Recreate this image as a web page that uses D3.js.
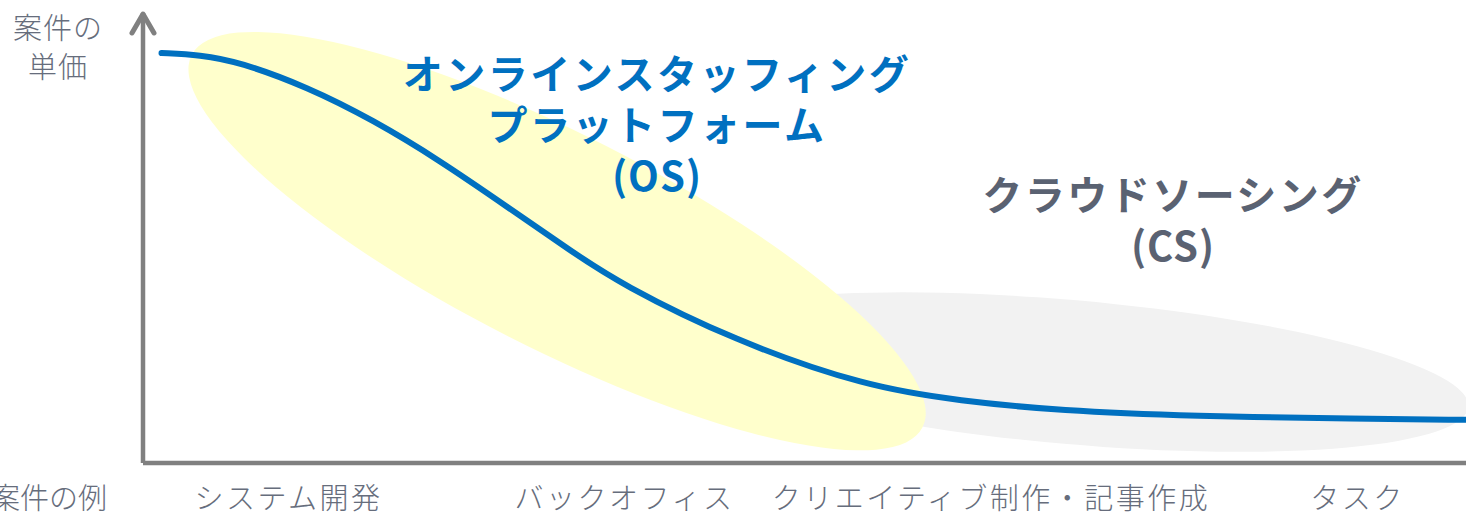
<!DOCTYPE html>
<html>
<head>
<meta charset="utf-8">
<script src="https://cdn.jsdelivr.net/npm/d3@7"></script>
<style>
  html, body { margin: 0; padding: 0; background: #fff; overflow: hidden; }
  text { font-family: "Noto Sans CJK JP", "Noto Sans", sans-serif; }
</style>
</head>
<body>
<div id="chart"></div>
<script>
// curve of unit price vs. task type (0-100 on both axes)
const curveX = [1.4, 4.3, 7.3, 12.4, 17.4, 22.4, 27.5, 32.5, 36.1, 44.6, 54.7, 61.8, 69.3, 79.4, 92.0, 100];
const curveY = [91.1, 90.7, 89.1, 83.6, 76.2, 67.3, 57.0, 46.8, 39.8, 27.3, 16.9, 13.8, 11.6, 10.4, 9.8, 9.6];

// example tasks along the x axis
const taskLabels = ["システム開発", "バックオフィス", "クリエイティブ制作・記事作成", "タスク"];
const taskPos = [11.0, 36.4, 64.1, 91.8];

const yTitle = ["案件の", "単価"];
const xTitle = "案件の例";

const osLines = ["オンラインスタッフィング", "プラットフォーム", "(OS)"];
const csLines = ["クラウドソーシング", "(CS)"];

const W = 1466, H = 514;
const x = d3.scaleLinear().domain([0, 100]).range([143, 1466]);
const y = d3.scaleLinear().domain([0, 100]).range([463, 13]);

const svg = d3.select("#chart").append("svg")
    .attr("width", W)
    .attr("height", H);

// background regions (gray = CS, yellow = OS)
function region(cx, cy, rx, ry, angle, fill) {
    svg.append("ellipse")
        .attr("cx", 0).attr("cy", 0)
        .attr("rx", x(rx) - x(0))
        .attr("ry", y(0) - y(ry))
        .attr("transform", `translate(${x(cx)},${y(cy)}) rotate(${angle})`)
        .attr("fill", fill);
}
region(70.1, 20.2, 30.2, 16.0, 5, "#f2f2f2");
region(31.3, 49.3, 31.0, 23.8, 27, "#ffffcc");

// the curve
const pts = curveX.map((d, i) => [d, curveY[i]]);
svg.append("path")
    .datum(pts)
    .attr("fill", "none")
    .attr("stroke", "#0070c0")
    .attr("stroke-width", 6)
    .attr("stroke-linecap", "round")
    .attr("d", d3.line()
        .x(d => x(d[0]))
        .y(d => y(d[1]))
        .curve(d3.curveBasis));

// axes
const axisColor = "#808080";
svg.append("path")
    .attr("d", `M${x(0)},${y(0)}V${y(100)}M${x(0)},${y(0)}H${x(100) + 5}`)
    .attr("fill", "none")
    .attr("stroke", axisColor)
    .attr("stroke-width", 4.5);
svg.append("path")
    .attr("d", `M${x(0) - 11},${y(100) + 20}L${x(0)},${y(100) + 1}L${x(0) + 11},${y(100) + 20}`)
    .attr("fill", "none")
    .attr("stroke", axisColor)
    .attr("stroke-width", 5)
    .attr("stroke-linecap", "round")
    .attr("stroke-linejoin", "round");

// axis titles and task labels
const labelColor = "#666d7c";
svg.selectAll("text.ytitle")
    .data(yTitle)
    .join("text")
    .attr("class", "ytitle")
    .attr("x", 58)
    .attr("y", (d, i) => 29 + i * 39)
    .attr("dy", "0.35em")
    .attr("text-anchor", "middle")
    .attr("fill", labelColor)
    .style("font-size", "29px")
    .style("font-weight", 300)
    .style("letter-spacing", "1px")
    .text(d => d);

svg.append("text")
    .attr("x", 107)
    .attr("y", 499)
    .attr("dy", "0.35em")
    .attr("text-anchor", "end")
    .attr("fill", labelColor)
    .style("font-size", "29px")
    .style("font-weight", 300)
    .text(xTitle);

svg.selectAll("text.task")
    .data(taskLabels)
    .join("text")
    .attr("class", "task")
    .attr("x", (d, i) => x(taskPos[i]))
    .attr("y", 499)
    .attr("dy", "0.35em")
    .attr("text-anchor", "middle")
    .attr("fill", labelColor)
    .style("font-size", "29px")
    .style("font-weight", 300)
    .style("letter-spacing", "2.5px")
    .text(d => d);

// region titles
function title(lines, cx, cy0, color) {
    svg.selectAll(null)
        .data(lines)
        .join("text")
        .attr("x", cx)
        .attr("y", (d, i) => cy0 + i * 51)
        .attr("dy", "0.35em")
        .attr("text-anchor", "middle")
        .attr("fill", color)
        .style("font-size", "40px")
        .style("font-weight", 700)
        .style("letter-spacing", d => d.startsWith("(") ? "1px" : "2.5px")
        .text(d => d);
}
title(osLines, 657, 75, "#0070c0");
title(csLines, 1173, 196, "#5a6272");
</script>
</body>
</html>
